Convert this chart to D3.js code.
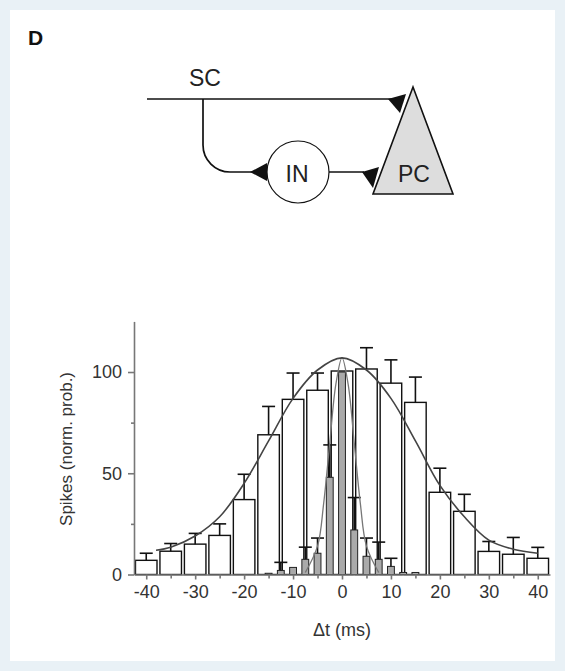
<!DOCTYPE html>
<html>
<head>
<meta charset="utf-8">
<script src="https://cdn.jsdelivr.net/npm/d3@7"></script>
<style>
  body { margin: 0; background: #e9f1f6; }
  svg { display: block; font-family: 'Liberation Sans', Arial, sans-serif; }
</style>
</head>
<body>
<div id="chart"></div>
<script>
'use strict'

// open bars: wide cross-correlogram, bin centres in ms
const openCentres = [-40, -35, -30, -25, -20, -15, -10, -5, 0, 5, 10, 15, 20, 25, 30, 35, 40]
const openValues = [7, 11.5, 15, 19.3, 37, 69, 86.5, 91, 100.5, 101.5, 94.5, 85, 40.6, 31.2, 11.4, 10, 8]
// top of each error bar, null where none is drawn
const openErrors = [10.5, 15.3, 20.3, 25, 49.5, 83, 99.5, 99.5, null, 112, 106, 97.5, 52.5, 39.6, 16.3, 18.3, 13.4]

// grey bars: narrow correlogram
const greyCentres = [-15, -12.5, -10, -7.5, -5, -2.5, 0, 2.5, 5, 7.5, 10, 12.5, 15]
const greyValues = [0.6, 2, 3.5, 7.5, 10.5, 48, 100, 22, 9, 7.5, 4, 1, 1]
const greyErrors = [null, 6, null, 13.5, 18, 64, null, 38, 18, 16, 8, null, null]

// fitted curves
const wideFitT = [-38, -35, -30, -25, -20, -15, -10, -5, 0, 5, 10, 15, 20, 25, 30, 35, 40]
const wideFitV = [12, 13.5, 19, 28.5, 45, 66, 87, 101, 107, 101, 87, 66, 44, 28.5, 17, 12.5, 10.5]
const narrowFitT = [-7.5, -5, -3.75, -2.5, -1.25, 0, 1.25, 2.5, 3.75, 5, 7.5]
const narrowFitV = [1, 14, 35, 65, 94, 107, 94, 65, 35, 14, 1]

// ticks
const xTicks = [-40, -30, -20, -10, 0, 10, 20, 30, 40]
const xMinorTicks = [-35, -25, -15, -5, 5, 15, 25, 35]
const yTicks = [0, 50, 100]
const yMinorTicks = [25, 75]

const W = 565
const H = 671

const svg = d3.select('#chart')
  .append('svg')
    .attr('width', W)
    .attr('height', H)

// white panel on the light page
svg.append('rect')
  .attr('x', 10).attr('y', 10)
  .attr('width', 545).attr('height', 651)
  .attr('fill', '#fff')

// ---- circuit diagram ----
const diag = svg.append('g')
  .attr('fill', 'none')
  .attr('stroke', '#111')
  .attr('stroke-width', 1.7)

diag.append('path').attr('d', 'M147,99 H392')
diag.append('path').attr('d', 'M203,99 V145 A27,27 0 0 0 230,172 H254')
diag.append('path').attr('d', 'M329,172 H364')

diag.append('circle')
  .attr('cx', 298).attr('cy', 172).attr('r', 31)
  .attr('fill', '#fff')
  .attr('stroke-width', 1.2)

diag.append('path')
  .attr('d', 'M413,87 L373,194 L453,194 Z')
  .attr('fill', '#ddd')
  .attr('stroke-width', 1.6)

// synapse terminals
const wedges = [
  'M388,99 L406,94 L400,113 Z',
  'M362,172 L379,167 L373,188 Z',
  'M250,172 L267,163 L267,181 Z'
]
diag.selectAll('path.wedge')
  .data(wedges)
  .join('path')
    .attr('class', 'wedge')
    .attr('d', d => d)
    .attr('fill', '#111')
    .attr('stroke', 'none')

svg.append('text')
  .attr('x', 28).attr('y', 45)
  .attr('font-size', 21).attr('font-weight', 'bold')
  .attr('fill', '#111')
  .text('D')

const labels = [
  { t: 'SC', x: 205, y: 86 },
  { t: 'IN', x: 297, y: 182 },
  { t: 'PC', x: 414, y: 182 }
]
svg.selectAll('text.node')
  .data(labels)
  .join('text')
    .attr('class', 'node')
    .attr('x', d => d.x).attr('y', d => d.y)
    .attr('text-anchor', 'middle')
    .attr('font-size', 23)
    .attr('fill', '#222')
    .text(d => d.t)

// ---- correlogram ----
const x = d3.scaleLinear().domain([-42.5, 42.5]).range([134, 550])
const y = d3.scaleLinear().domain([0, 125]).range([574.5, 321.4])

const openWidth = 4.4   // ms
const greyWidth = 1.4   // ms
const capHalf = 6.5     // px

const open = openCentres.map((t, i) => ({ t, v: openValues[i], e: openErrors[i] }))
const grey = greyCentres.map((t, i) => ({ t, v: greyValues[i], e: greyErrors[i] }))

const plot = svg.append('g')

plot.selectAll('rect.open')
  .data(open)
  .join('rect')
    .attr('class', 'open')
    .attr('x', d => x(d.t - openWidth / 2))
    .attr('width', x(openWidth) - x(0))
    .attr('y', d => y(d.v))
    .attr('height', d => y(0) - y(d.v))
    .attr('fill', '#fff')
    .attr('stroke', '#111')
    .attr('stroke-width', 1.4)

// error bars for both sets
const errorBars = (data, cls) => {
  const g = plot.selectAll('g.' + cls)
    .data(data.filter(d => d.e != null))
    .join('g')
      .attr('class', cls)
      .attr('stroke', '#111')
      .attr('stroke-width', 1.6)
  g.append('line')
    .attr('x1', d => x(d.t)).attr('x2', d => x(d.t))
    .attr('y1', d => y(d.v)).attr('y2', d => y(d.e))
  g.append('line')
    .attr('x1', d => x(d.t) - capHalf).attr('x2', d => x(d.t) + capHalf)
    .attr('y1', d => y(d.e)).attr('y2', d => y(d.e))
}
errorBars(open, 'err-open')

plot.selectAll('rect.grey')
  .data(grey)
  .join('rect')
    .attr('class', 'grey')
    .attr('x', d => x(d.t - greyWidth / 2))
    .attr('width', x(greyWidth) - x(0))
    .attr('y', d => y(d.v))
    .attr('height', d => y(0) - y(d.v))
    .attr('fill', '#aaa')
    .attr('stroke', '#222')
    .attr('stroke-width', 1)
errorBars(grey, 'err-grey')

// axes
const xAxis = svg.append('g')
  .attr('transform', `translate(0, ${y(0)})`)
  .call(d3.axisBottom(x)
    .tickValues(xTicks)
    .tickFormat(d => String(d))
    .tickSize(5)
    .tickSizeOuter(0)
    .tickPadding(6))
svg.append('g')
  .attr('transform', `translate(0, ${y(0)})`)
  .call(d3.axisBottom(x)
    .tickValues(xMinorTicks)
    .tickFormat('')
    .tickSize(4)
    .tickSizeOuter(0))
  .call(g => g.select('.domain').remove())

const yAxis = svg.append('g')
  .attr('transform', `translate(${x.range()[0]}, 0)`)
  .call(d3.axisLeft(y)
    .tickValues(yTicks)
    .tickSize(6)
    .tickSizeOuter(0)
    .tickPadding(6))
svg.append('g')
  .attr('transform', `translate(${x.range()[0]}, 0)`)
  .call(d3.axisLeft(y)
    .tickValues(yMinorTicks)
    .tickFormat('')
    .tickSize(3)
    .tickSizeOuter(0))
  .call(g => g.select('.domain').remove())

svg.selectAll('.domain, .tick line')
  .attr('stroke', '#777')
  .attr('stroke-width', 1.6)
svg.selectAll('.tick text')
  .attr('font-size', 18)
  .attr('font-family', 'Liberation Sans, Arial, sans-serif')
  .attr('fill', '#333')

// fitted curves drawn over the bars
const line = d3.line()
  .x(d => x(d[0]))
  .y(d => y(d[1]))
  .curve(d3.curveCatmullRom)

plot.append('path')
  .datum(narrowFitT.map((t, i) => [t, narrowFitV[i]]))
  .attr('fill', 'none')
  .attr('stroke', '#777')
  .attr('stroke-width', 1.3)
  .attr('d', line)

plot.append('path')
  .datum(wideFitT.map((t, i) => [t, wideFitV[i]]))
  .attr('fill', 'none')
  .attr('stroke', '#444')
  .attr('stroke-width', 1.6)
  .attr('d', line)

// axis titles
svg.append('text')
  .attr('transform', `translate(72, ${y(62)}) rotate(-90)`)
  .attr('text-anchor', 'middle')
  .attr('font-size', 17)
  .attr('fill', '#333')
  .text('Spikes (norm. prob.)')

svg.append('text')
  .attr('x', x(0))
  .attr('y', 636)
  .attr('text-anchor', 'middle')
  .attr('font-size', 18)
  .attr('fill', '#333')
  .text('Δt (ms)')
</script>
</body>
</html>
